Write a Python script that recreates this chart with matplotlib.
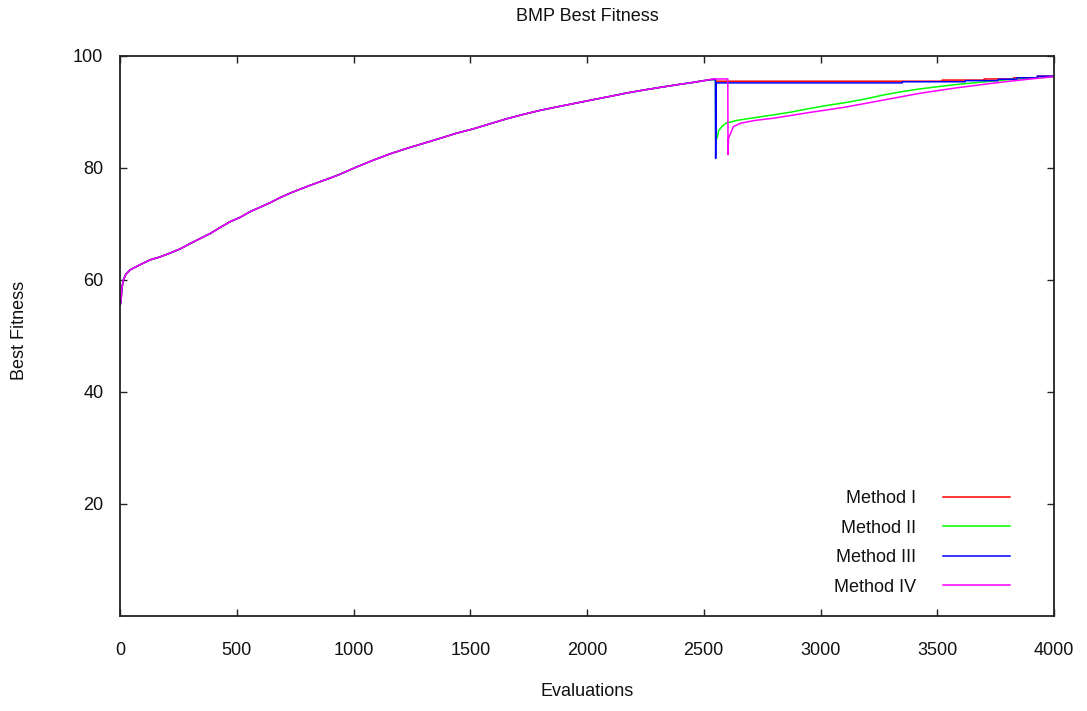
import matplotlib
matplotlib.use("Agg")
import matplotlib.pyplot as plt

# Shared best-fitness trajectory before the environment change
base_evals = [0, 4, 8, 14, 25, 43, 80, 129, 170, 214, 260, 300, 343, 386, 430,
              471, 515, 557, 600, 643, 685, 728, 770, 814, 860, 900, 943, 1014,
              1085, 1155, 1228, 1300, 1371, 1440, 1514, 1585, 1657, 1730, 1800,
              1870, 1942, 2014, 2100, 2171, 2240, 2314, 2390, 2457, 2500, 2535, 2550]
base_fitness = [55.5, 56.0, 58.5, 60.0, 61.0, 61.8, 62.6, 63.6, 64.1, 64.8, 65.6,
                66.5, 67.4, 68.3, 69.4, 70.4, 71.2, 72.2, 73.0, 73.8, 74.7, 75.5,
                76.2, 76.9, 77.6, 78.2, 78.9, 80.2, 81.4, 82.5, 83.5, 84.4, 85.3,
                86.2, 87.0, 87.9, 88.8, 89.6, 90.3, 90.9, 91.5, 92.1, 92.8, 93.4,
                93.9, 94.4, 94.9, 95.3, 95.6, 95.8, 95.8]

# Behaviour of each method after the change
m1_evals = [2552, 3520, 3521, 3700, 3701, 3826, 3827, 3930, 3931, 4000]
m1_fitness = [95.5, 95.5, 95.7, 95.7, 95.9, 95.9, 96.1, 96.1, 96.4, 96.4]

m2_evals = [2551, 2558, 2564, 2580, 2595, 2642, 2720, 2800, 2876, 2950, 3032,
            3110, 3188, 3265, 3343, 3420, 3499, 3580, 3655, 3730, 3811, 3900, 4000]
m2_fitness = [85.0, 85.5, 86.7, 87.5, 88.0, 88.5, 89.0, 89.5, 90.0, 90.6, 91.2,
              91.7, 92.3, 93.0, 93.6, 94.1, 94.5, 94.9, 95.2, 95.5, 95.8, 96.0, 96.3]

m3_evals = [2551, 2553, 3350, 3351, 3620, 3621, 3760, 3761, 3840, 3841, 3927, 3928, 4000]
m3_fitness = [81.7, 95.2, 95.2, 95.4, 95.4, 95.6, 95.6, 95.85, 95.85, 96.1, 96.1, 96.4, 96.4]

m4_evals = [2540, 2603, 2604, 2606, 2627, 2658, 2720, 2800, 2876, 2950, 3032,
            3110, 3188, 3265, 3343, 3420, 3499, 3580, 3655, 3730, 3811, 3900, 4000]
m4_fitness = [95.9, 95.9, 82.4, 85.3, 87.4, 88.0, 88.5, 88.9, 89.4, 89.9, 90.4,
              90.9, 91.5, 92.1, 92.7, 93.3, 93.8, 94.3, 94.7, 95.1, 95.5, 95.9, 96.3]

labels = ["Method I", "Method II", "Method III", "Method IV"]
colors = ["#ff0000", "#00ff00", "#0000ff", "#ff00ff"]

x_ticks = [0, 500, 1000, 1500, 2000, 2500, 3000, 3500, 4000]
y_ticks = [20, 40, 60, 80, 100]

plt.rcParams["font.family"] = ["Liberation Sans", "DejaVu Sans"]

fig = plt.figure(figsize=(10.87, 7.11), dpi=100)
W, H = 1087, 711
ax = fig.add_axes([120 / W, (H - 616) / H, 934 / W, 560 / H])

series = [
    (m1_evals, m1_fitness),
    (m2_evals, m2_fitness),
    (m3_evals, m3_fitness),
    (m4_evals, m4_fitness),
]
for (ev, fit), lab, col in zip(series, labels, colors):
    x = base_evals + ev
    y = base_fitness + fit
    if lab == "Method IV":
        # Method IV holds its peak a little longer before the drop
        x = base_evals[:-2] + ev
        y = base_fitness[:-2] + fit
    ax.plot(x, y, color=col, lw=1.1, label=lab)

ax.set_xlim(0, 4000)
ax.set_ylim(0, 100)
ax.set_xticks(x_ticks)
ax.set_yticks(y_ticks)

for s in ax.spines.values():
    s.set_color("#222222")
    s.set_linewidth(1.3)

ax.tick_params(axis="both", direction="in", length=5, width=1.0, color="#222222",
               top=True, right=True, labelsize=13, labelcolor="#111111")
ax.tick_params(axis="x", pad=19)
ax.tick_params(axis="y", pad=12)

ax.set_title("BMP Best Fitness", fontsize=13, color="#111111", pad=25)
ax.set_xlabel("Evaluations", fontsize=13, color="#111111")
ax.set_ylabel("Best Fitness", fontsize=13, color="#111111")
ax.xaxis.set_label_coords(0.5, -0.12)
ax.yaxis.set_label_coords(-0.098, 0.51)

leg = ax.legend(loc="lower right", bbox_to_anchor=(0.9665, 0.0135), frameon=False,
                markerfirst=False, fontsize=13, handlelength=3.7,
                handletextpad=1.5, labelspacing=0.70, borderpad=0.2)
for t in leg.get_texts():
    t.set_color("#111111")

fig.savefig("out.png", dpi=100)
